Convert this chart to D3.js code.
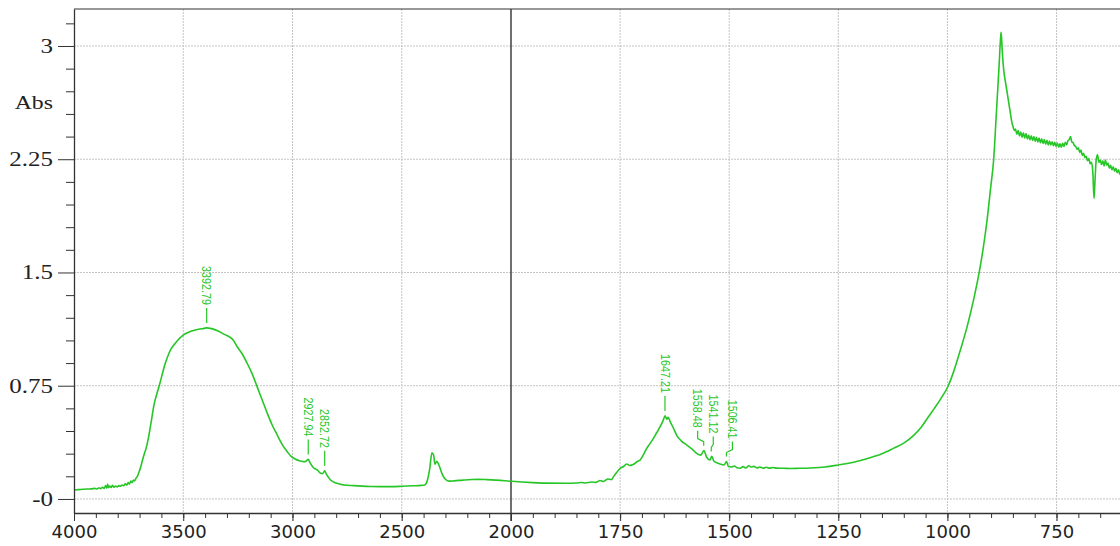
<!DOCTYPE html>
<html>
<head>
<meta charset="utf-8">
<script src="https://cdn.jsdelivr.net/npm/d3@7"></script>
<style>
  html, body { margin: 0; padding: 0; background: #fff; }
  svg { display: block; }
</style>
</head>
<body>
<div id="chart"></div>
<script>
// IR spectrum (wavenumber cm-1, absorbance)
const spectrum = [
  [4000,0.060],[3980,0.062],[3960,0.064],[3940,0.066],[3920,0.067],[3905,0.070],[3895,0.066],[3885,0.074],
  [3878,0.068],[3870,0.078],[3862,0.070],[3855,0.088],[3850,0.072],[3846,0.098],[3842,0.075],[3836,0.085],
  [3830,0.076],[3824,0.090],[3818,0.078],[3810,0.086],[3802,0.080],[3795,0.088],[3788,0.084],[3780,0.092],
  [3772,0.088],[3765,0.100],[3758,0.092],[3752,0.108],[3746,0.098],[3740,0.118],[3734,0.108],[3728,0.125],
  [3722,0.120],[3716,0.138],[3710,0.150],[3702,0.180],[3695,0.210],[3686,0.260],[3678,0.300],[3671,0.330],
  [3660,0.400],[3648,0.500],[3633,0.630],[3620,0.700],[3610,0.750],[3598,0.815],[3587,0.876],[3572,0.940],
  [3557,0.990],[3540,1.025],[3526,1.050],[3500,1.085],[3465,1.110],[3430,1.124],[3404,1.130],[3393,1.133],
  [3370,1.128],[3340,1.112],[3312,1.090],[3290,1.075],[3270,1.050],[3254,1.010],[3230,0.960],[3208,0.900],
  [3185,0.830],[3162,0.744],[3140,0.660],[3116,0.570],[3093,0.490],[3070,0.424],[3047,0.360],[3024,0.313],
  [3005,0.280],[2986,0.263],[2965,0.252],[2948,0.247],[2938,0.250],[2928,0.262],[2920,0.240],[2905,0.208],
  [2887,0.192],[2870,0.170],[2862,0.168],[2853,0.186],[2845,0.165],[2826,0.126],[2800,0.105],[2765,0.093],
  [2720,0.088],[2680,0.085],[2642,0.083],[2600,0.082],[2550,0.082],[2500,0.084],[2450,0.087],[2410,0.090],
  [2395,0.093],[2386,0.110],[2372,0.200],[2362,0.305],[2354,0.290],[2348,0.230],[2340,0.250],[2330,0.225],
  [2315,0.165],[2300,0.130],[2285,0.118],[2260,0.120],[2220,0.125],[2180,0.129],[2150,0.130],[2110,0.128],
  [2070,0.125],[2030,0.121],[2000,0.117],
  [1975,0.112],[1950,0.108],[1920,0.105],[1872,0.104],[1850,0.106],[1838,0.109],[1830,0.106],[1815,0.112],
  [1805,0.110],[1796,0.122],[1788,0.116],[1778,0.132],[1770,0.128],[1765,0.148],[1758,0.175],[1750,0.203],
  [1742,0.215],[1735,0.232],[1728,0.222],[1720,0.228],[1712,0.245],[1704,0.258],[1697,0.290],[1690,0.330],
  [1682,0.365],[1674,0.400],[1666,0.440],[1658,0.480],[1652,0.515],[1647,0.550],[1643,0.528],[1640,0.540],
  [1635,0.510],[1628,0.470],[1620,0.420],[1610,0.385],[1597,0.357],[1585,0.330],[1574,0.300],[1565,0.290],
  [1558,0.320],[1552,0.278],[1544,0.258],[1540,0.282],[1535,0.250],[1528,0.240],[1521,0.232],[1512,0.225],
  [1506,0.248],[1502,0.215],[1495,0.212],[1488,0.218],[1482,0.206],[1475,0.203],[1468,0.214],[1462,0.205],
  [1455,0.220],[1450,0.212],[1444,0.216],[1436,0.205],[1430,0.212],[1422,0.204],[1415,0.210],[1408,0.204],
  [1400,0.208],[1391,0.204],[1375,0.203],[1360,0.202],[1340,0.203],[1314,0.205],[1280,0.212],[1250,0.225],
  [1220,0.240],[1195,0.258],[1170,0.280],[1150,0.300],[1124,0.335],[1100,0.370],[1078,0.420],[1060,0.475],
  [1047,0.530],[1030,0.600],[1015,0.665],[998,0.750],[985,0.850],[970,0.990],[955,1.140],[940,1.320],
  [926,1.520],[915,1.720],[909,1.850],[901,2.060],[894,2.250],[888,2.550],[882,2.850],[878,3.060],
  [877,3.090],[874,2.950],[871,2.840],[867,2.760],[863,2.690],[856,2.560],[852,2.490],
  [850,2.470],[847,2.440],[844,2.450],[841,2.415],[838,2.440],[835,2.405],[832,2.430],[829,2.395],
  [826,2.425],[823,2.390],[820,2.420],[817,2.385],[814,2.410],[811,2.380],[808,2.405],[805,2.375],
  [802,2.400],[799,2.370],[796,2.395],[793,2.365],[790,2.390],[787,2.360],[784,2.385],[781,2.355],
  [778,2.380],[775,2.350],[772,2.375],[769,2.345],[766,2.370],[763,2.345],[760,2.365],[757,2.340],
  [754,2.362],[751,2.335],[748,2.358],[745,2.330],[742,2.352],[739,2.330],[736,2.355],[733,2.335],
  [730,2.362],[727,2.345],[724,2.372],[721,2.380],[718,2.400],[715,2.365],[712,2.360],[709,2.340],
  [706,2.335],[703,2.315],[700,2.325],[697,2.295],[694,2.310],[691,2.275],[688,2.290],[685,2.260],
  [682,2.270],[679,2.240],[676,2.255],[673,2.220],[670,2.230],[667,2.170],[664,1.990],[662,2.100],
  [659,2.250],[656,2.280],[653,2.230],[650,2.245],[647,2.215],[644,2.240],[641,2.205],[638,2.245],
  [635,2.210],[632,2.225],[629,2.190],[626,2.210],[623,2.180],[620,2.200],[617,2.170],[614,2.190],
  [611,2.160],[608,2.180],[605,2.150],[602,2.165],[600,2.155]
];

// peak labels
const peakWn = [3392.79, 2927.94, 2852.72, 1647.21, 1558.48, 1541.12, 1506.41];
const peakAbs = [1.133, 0.262, 0.186, 0.550, 0.320, 0.282, 0.248];

// axes
const xDomain = [4000, 2000, 600];
const xMajorLeft = [4000, 3500, 3000, 2500, 2000];
const xMajorRight = [1750, 1500, 1250, 1000, 750];
const xMinorLeft = d3.range(3900, 2000, -100);
const xMinorRight = d3.range(1950, 599, -50);
const yMajor = [0, 0.75, 1.5, 2.25, 3];
const yMajorLabels = ['-0', '0.75', '1.5', '2.25', '3'];
const yMinor = [0.15, 0.3, 0.45, 0.6, 0.9, 1.05, 1.2, 1.35, 1.65, 1.8, 1.95, 2.1, 2.4, 2.55, 2.7, 2.85, 3.15];
const yTitle = 'Abs';

const WIDTH = 1120;
const HEIGHT = 546;
const LEFT = 74, RIGHT = 1122, TOP = 9, BOTTOM = 513;
const GREEN = '#27c627';
// sideways nudge of crowded peak labels (px)
const labelNudge = { 1558.48: -6, 1541.12: 2, 1506.41: 6 };

const x = d3.scaleLinear().domain(xDomain).range([LEFT, 511, RIGHT]);
const y = d3.scaleLinear().domain([-0.093, 3.245]).range([BOTTOM, TOP]);

const svg = d3.select('#chart').append('svg')
  .attr('width', WIDTH)
  .attr('height', HEIGHT);

svg.append('defs').append('clipPath').attr('id', 'plot')
  .append('rect').attr('x', LEFT).attr('y', TOP).attr('width', RIGHT - LEFT).attr('height', BOTTOM - TOP);

// grid
const grid = svg.append('g');
grid.selectAll('.hg').data(yMajor).enter().append('line')
  .attr('x1', LEFT).attr('x2', RIGHT)
  .attr('y1', d => y(d)).attr('y2', d => y(d))
  .attr('stroke', '#c4c4c4').attr('stroke-dasharray', '2,1');
grid.selectAll('.vg').data(xMajorLeft.slice(1, -1).concat(xMajorRight)).enter().append('line')
  .attr('x1', d => x(d)).attr('x2', d => x(d))
  .attr('y1', TOP).attr('y2', BOTTOM + 8)
  .attr('stroke', '#c4c4c4').attr('stroke-dasharray', '2,1');
// split line at 2000
grid.append('line')
  .attr('x1', x(2000)).attr('x2', x(2000))
  .attr('y1', TOP).attr('y2', BOTTOM + 8)
  .attr('stroke', '#222').attr('stroke-width', 1.3);
// top border
grid.append('line')
  .attr('x1', LEFT).attr('x2', RIGHT).attr('y1', TOP).attr('y2', TOP)
  .attr('stroke', '#333').attr('stroke-width', 1.2);

// spectrum
const line = d3.line()
  .x(d => x(d[0]))
  .y(d => y(d[1]))
  .curve(d3.curveMonotoneX);

svg.append('path')
  .datum(spectrum)
  .attr('clip-path', 'url(#plot)')
  .attr('fill', 'none')
  .attr('stroke', GREEN)
  .attr('stroke-width', 1.6)
  .attr('stroke-linejoin', 'round')
  .attr('d', line);

// peak labels
const peaks = svg.append('g');
peakWn.forEach((wn, i) => {
  const px = x(wn);
  const py = y(peakAbs[i]);
  const nx = px + (labelNudge[wn] || 0);
  peaks.append('path')
    .attr('d', `M${px},${py - 5}V${py - 9}L${nx},${py - 12}V${py - 20}`)
    .attr('fill', 'none')
    .attr('stroke', GREEN).attr('stroke-width', 1.2);
  peaks.append('text')
    .attr('transform', `translate(${nx},${py - 23}) rotate(90) scale(0.86,1)`)
    .attr('text-anchor', 'end')
    .attr('dy', '0.35em')
    .attr('fill', GREEN)
    .style('font-family', '"Liberation Sans", Arial, sans-serif')
    .style('font-size', '12.5px')
    .text(wn.toFixed(2));
});

// y axis
const yAxisG = svg.append('g').attr('transform', `translate(${LEFT},0)`);
yAxisG.call(d3.axisLeft(y).tickValues(yMajor).tickSize(16).tickSizeOuter(0)
  .tickFormat((d, i) => yMajorLabels[i]));
yAxisG.append('g').call(d3.axisLeft(y).tickValues(yMinor).tickSize(8).tickSizeOuter(0).tickFormat(''))
  .select('.domain').remove();
yAxisG.select('.domain').attr('stroke', '#333').attr('stroke-width', 1.3);
yAxisG.selectAll('.tick line').attr('stroke', '#333');
yAxisG.selectAll('.tick text')
  .attr('x', 0)
  .attr('transform', 'translate(-21,0) scale(1.25,1)')
  .attr('fill', '#222')
  .style('font-family', '"Liberation Serif", "Times New Roman", serif')
  .style('font-size', '20px');
yAxisG.append('text')
  .attr('transform', `translate(-21,${y(2.62)}) scale(1.25,1)`)
  .attr('text-anchor', 'end')
  .attr('dy', '0.32em')
  .attr('fill', '#222')
  .style('font-family', '"Liberation Serif", "Times New Roman", serif')
  .style('font-size', '19px')
  .text(yTitle);

// x axis
const xAxisG = svg.append('g').attr('transform', `translate(0,${BOTTOM})`);
xAxisG.call(d3.axisBottom(x).tickValues(xMajorLeft.concat(xMajorRight)).tickSize(8).tickPadding(4)
  .tickSizeOuter(0).tickFormat(d3.format('d')));
xAxisG.append('g').call(d3.axisBottom(x).tickValues(xMinorLeft.concat(xMinorRight)).tickSize(5).tickSizeOuter(0).tickFormat(''))
  .select('.domain').remove();
xAxisG.select('.domain').attr('stroke', '#333').attr('stroke-width', 1.3);
xAxisG.selectAll('.tick line').attr('stroke', '#333');
xAxisG.selectAll('.tick text')
  .attr('fill', '#222')
  .style('font-family', '"DejaVu Sans", Verdana, sans-serif')
  .style('font-size', '18px');
</script>
</body>
</html>
